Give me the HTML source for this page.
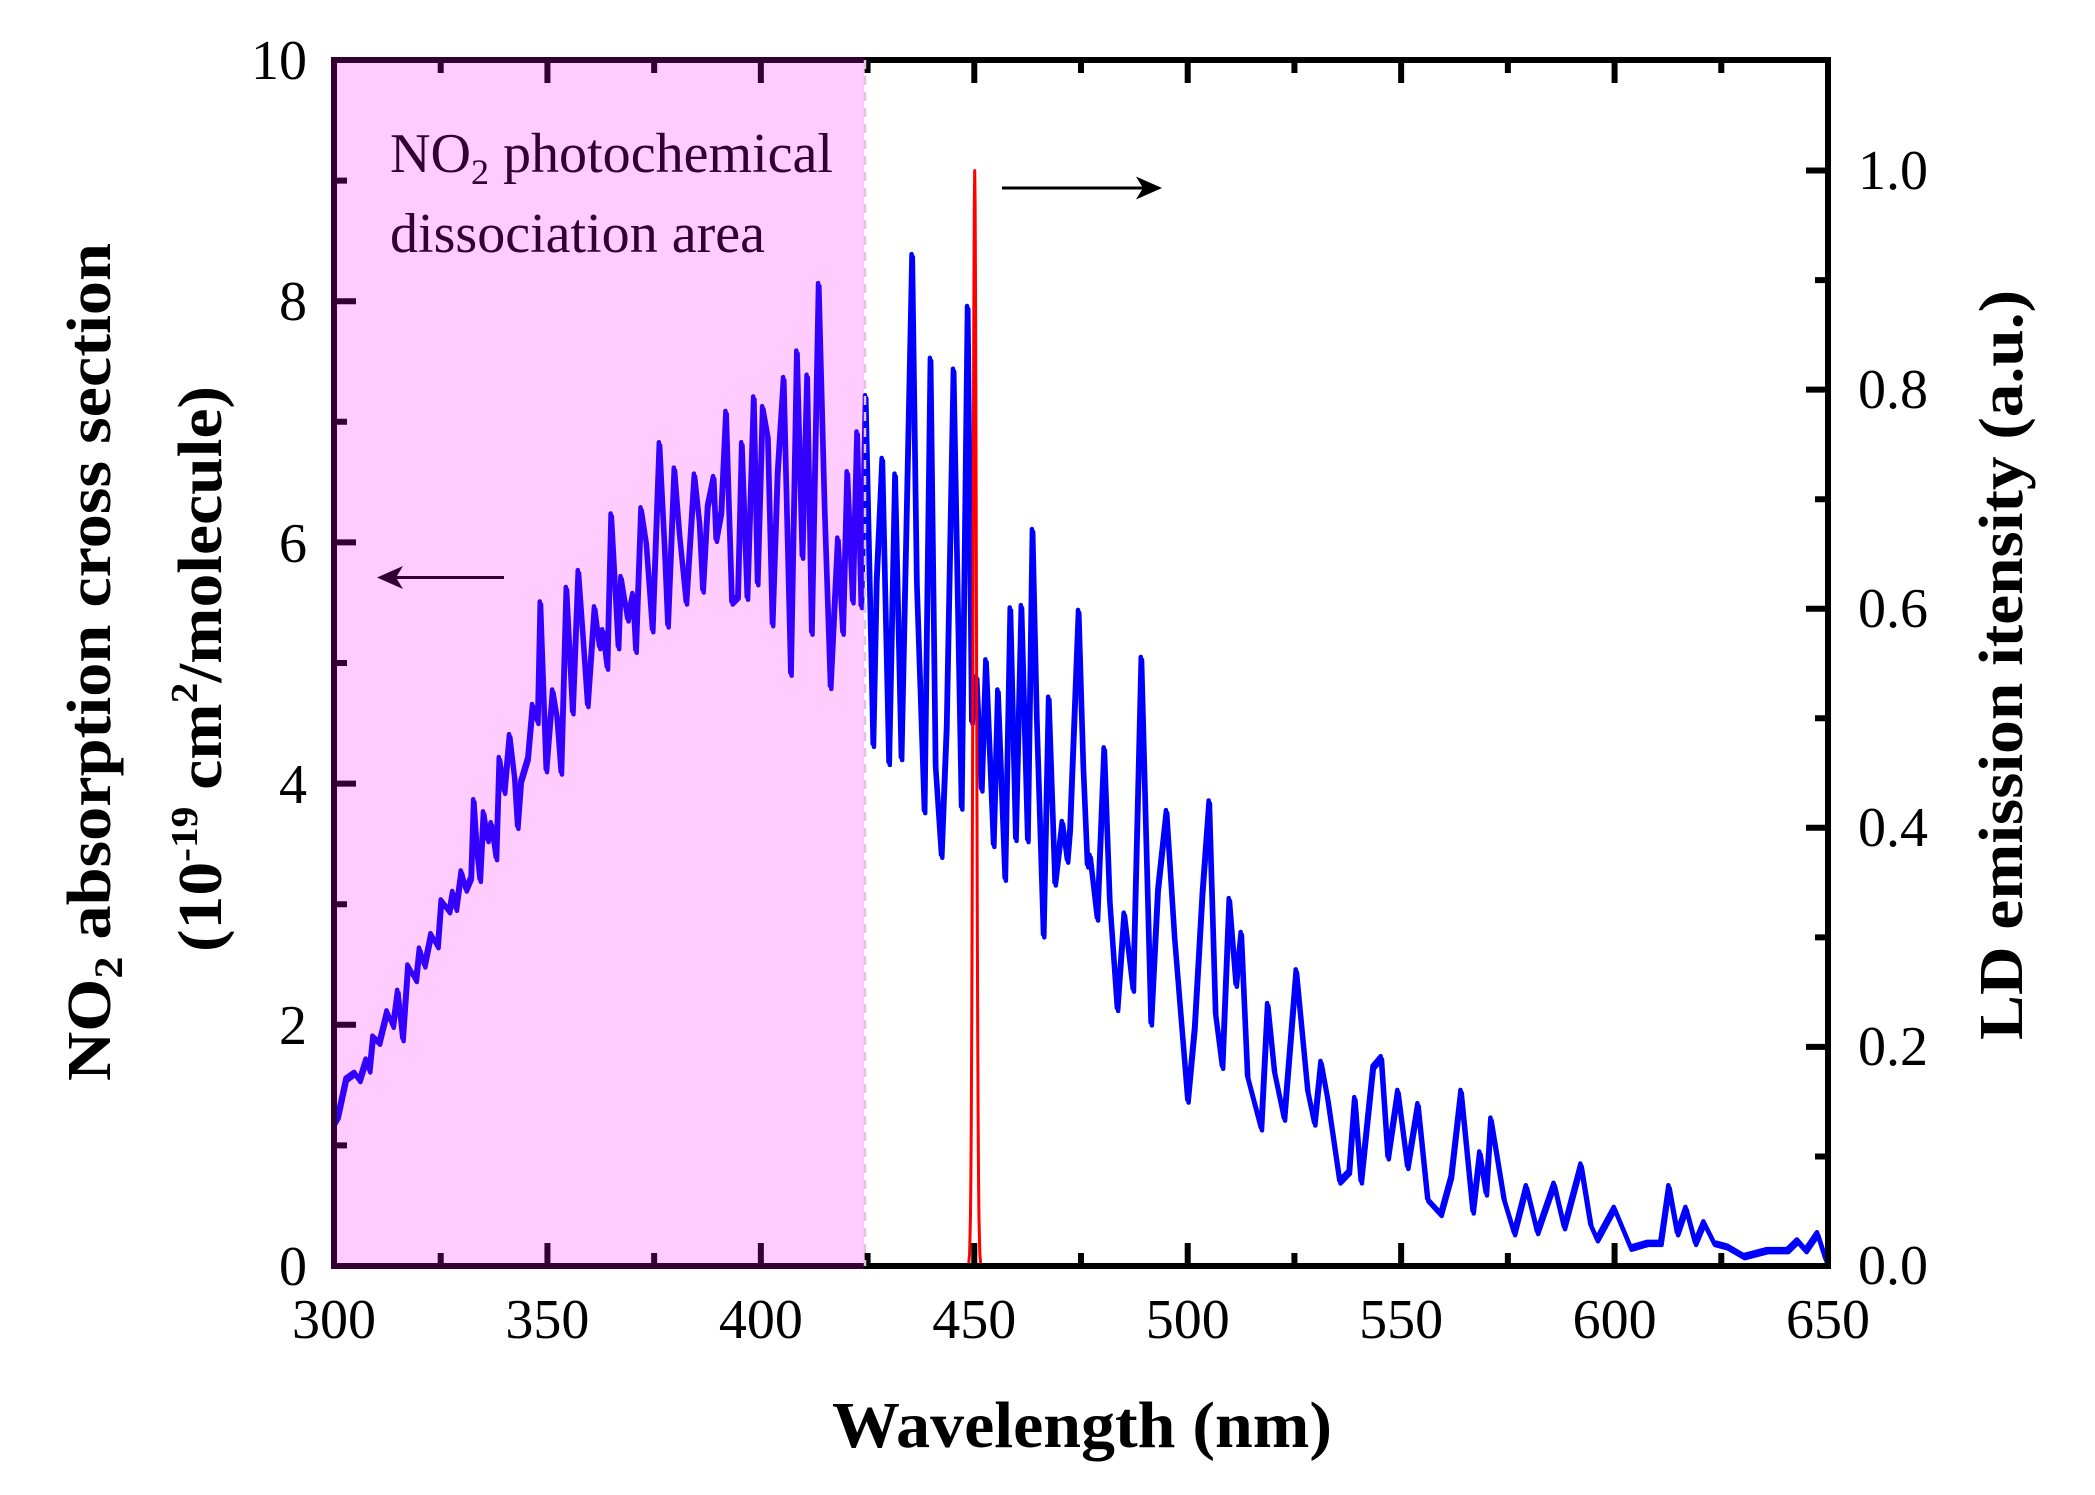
<!DOCTYPE html>
<html>
<head>
<meta charset="utf-8">
<style>
html,body{margin:0;padding:0;background:#fff;}
svg{display:block;}
text{font-family:"Liberation Serif","DejaVu Serif",serif;fill:#000;}
</style>
</head>
<body>
<svg width="2095" height="1495" viewBox="0 0 2095 1495" xmlns="http://www.w3.org/2000/svg" xmlns:xlink="http://www.w3.org/1999/xlink">
<rect x="0" y="0" width="2095" height="1495" fill="#fff"/>

<!-- data series -->
<g transform="translate(334,1266) scale(4.268571,-120.6) translate(-300,0)">
<polyline id="blue" fill="none" stroke="#0000ff" stroke-width="4.5" vector-effect="non-scaling-stroke" stroke-linejoin="round" points="
300,1.2 300.8,1.25 302.7,1.56 304.7,1.61 305.9,1.55 307.4,1.72 308.2,1.63 309,1.91 310.5,1.86 312.3,2.12 313.7,2.0 314.8,2.29 316,1.89 317.2,2.5 319.1,2.38 319.9,2.64 321.1,2.5 322.6,2.76 324.2,2.66 325,3.04 326.9,2.95 327.7,3.11 328.5,2.97 329.7,3.28 330.8,3.13 332,3.23 332.6,3.87 333.4,3.44 334.1,3.21 334.9,3.77 335.9,3.54 336.7,3.68 337.9,3.39 338.6,4.22 339.8,3.94 341,4.41 342.2,4.05 342.9,3.65 343.7,4.03 345.3,4.22 346.4,4.66 347.6,4.52 348.2,5.51 349,4.71 349.6,4.12 351.1,4.78 352.1,4.57 353.1,4.1 354.3,5.63 355.8,4.6 357.1,5.77 358.2,5.23 359.3,4.66 360.9,5.47 362.1,5.14 362.8,5.28 363.9,4.97 364.8,6.24 366.5,5.14 367.1,5.72 368.7,5.37 369.9,5.58 370.6,5.11 371.8,6.29 373,6.01 374.5,5.28 376.1,6.83 377.3,5.98 378.1,5.32 379.6,6.62 380.8,6.08 382.4,5.51 384.3,6.57 385.5,6.17 386.3,5.61 387.4,6.31 388.8,6.55 389.4,6.03 390.6,6.26 391.7,7.09 393.1,5.51 394.5,5.56 395.4,6.83 396.7,5.55 398.2,7.21 399.1,5.67 400.3,7.13 401.5,6.89 402.6,5.33 403.8,6.59 405.2,7.37 406.9,4.92 408.3,7.59 409.6,5.89 410.7,7.39 411.8,5.26 413.4,8.15 414.8,6.29 416.2,4.81 417.9,6.04 419.1,5.26 420.1,6.59 421.4,5.52 422.4,6.92 423.4,5.48 424.4,7.22 426.2,4.33 427,5.7 428.3,6.7 429.9,4.18 431.3,6.57 432.8,4.22 434,6.2 435.3,8.39 436.4,5.67 438.2,3.78 439.6,7.53 440.8,4.15 442.2,3.41 443.4,4.48 445,7.44 446.9,3.81 448.3,7.96 449.3,4.52 450.4,4.89 451.6,3.96 452.6,5.03 454.4,3.5 455.4,4.78 457.1,3.22 458.3,5.46 459.6,3.55 460.9,5.48 462.4,3.54 463.5,6.11 464.5,4.55 466.1,2.75 467.3,4.72 468.8,3.18 470.5,3.69 471.7,3.37 472.3,3.63 474.3,5.44 475.4,4.15 476.4,3.33 477,3.41 478.7,2.89 480.3,4.3 481.6,3.04 483.4,2.14 485,2.93 487.1,2.3 489,5.05 491.3,2.02 492.9,3.13 494.9,3.78 496.8,2.73 499.9,1.38 501.5,1.98 503.3,3.09 504.9,3.86 506.4,2.1 508,1.66 509.6,3.05 511.2,2.34 512.4,2.77 513.9,1.58 517.1,1.15 518.6,2.18 520.2,1.62 522.5,1.23 525.3,2.46 528,1.46 529.6,1.19 531.1,1.7 532.7,1.39 535.5,0.71 537.7,0.79 539,1.4 540.5,0.71 543.3,1.66 545.2,1.74 546.8,0.91 549.1,1.46 551.4,0.83 553.8,1.35 556.1,0.56 559.2,0.44 561.6,0.75 563.9,1.46 566.7,0.46 568.3,0.95 569.8,0.61 570.9,1.23 574,0.56 576.4,0.28 579.2,0.67 581.8,0.29 585.7,0.69 588.1,0.33 592,0.85 594.3,0.35 595.8,0.23 599.8,0.49 603.7,0.16 607.6,0.2 610.7,0.2 612.6,0.67 614.6,0.28 616.6,0.49 618.8,0.2 620.8,0.37 623.2,0.2 626.3,0.17 630.2,0.09 635.7,0.14 640.4,0.14 642.7,0.22 644.7,0.14 647.4,0.28 649.4,0.06 650,0.1"/>
<use xlink:href="#blue" href="#blue" transform="translate(0.3,-0.025)"/>
<polyline fill="none" stroke="#ff0000" stroke-width="3" vector-effect="non-scaling-stroke" stroke-linejoin="round" points="
445,0 448.5,0 448.7,0.02 448.9,0.101 449.1,0.399 449.2,0.723 449.3,1.229 449.4,1.965 449.5,2.949 449.6,4.158 449.7,5.509 449.8,6.856 449.9,8.016 450.0,8.80 450.1,9.083 450.2,8.80 450.3,8.016 450.4,6.856 450.5,5.509 450.6,4.158 450.7,2.949 450.8,1.965 450.9,1.229 451.0,0.723 451.1,0.399 451.3,0.101 451.5,0.02 451.7,0 455,0"/>
</g>

<!-- axes frame -->
<rect x="334" y="60" width="1494" height="1206" fill="none" stroke="#000" stroke-width="6"/>

<!-- ticks -->
<g stroke="#000" stroke-width="6" fill="none">
<path d="M547.43 1266V1243 M760.86 1266V1243 M974.29 1266V1243 M1187.71 1266V1243 M1401.14 1266V1243 M1614.57 1266V1243"/>
<path d="M440.71 1266V1253 M654.14 1266V1253 M867.57 1266V1253 M1081 1266V1253 M1294.43 1266V1253 M1507.86 1266V1253 M1721.29 1266V1253"/>
<path d="M547.43 60V83 M760.86 60V83 M974.29 60V83 M1187.71 60V83 M1401.14 60V83 M1614.57 60V83"/>
<path d="M440.71 60V73 M654.14 60V73 M867.57 60V73 M1081 60V73 M1294.43 60V73 M1507.86 60V73 M1721.29 60V73"/>
<path d="M334 1024.8H356 M334 783.6H356 M334 542.4H356 M334 301.2H356"/>
<path d="M334 1145.4H347 M334 904.2H347 M334 663H347 M334 421.8H347 M334 180.6H347"/>
<path d="M1828 1046.9H1806 M1828 827.8H1806 M1828 608.7H1806 M1828 389.6H1806 M1828 170.5H1806"/>
<path d="M1828 1156.45H1815 M1828 937.4H1815 M1828 718.3H1815 M1828 499.2H1815 M1828 280.1H1815"/>
</g>

<!-- annotation text -->
<text x="390" y="172" font-size="56" textLength="443" lengthAdjust="spacingAndGlyphs">NO<tspan font-size="36" dy="12">2</tspan><tspan dy="-12"> photochemical</tspan></text>
<text x="390" y="252" font-size="56" textLength="375" lengthAdjust="spacingAndGlyphs">dissociation area</text>

<!-- arrows -->
<line x1="504" y1="577.5" x2="385" y2="577.5" stroke="#000" stroke-width="3"/>
<polygon points="377,577.5 403,566 396,577.5 403,589" fill="#000"/>
<line x1="1002" y1="188" x2="1154" y2="188" stroke="#000" stroke-width="3"/>
<polygon points="1162,188 1136,176.5 1143,188 1136,199.5" fill="#000"/>

<!-- dashed boundary -->
<line x1="865" y1="60" x2="865" y2="1266" stroke="#e2c2e2" stroke-width="2.5" stroke-dasharray="9,7"/>

<!-- pink overlay -->
<rect x="331" y="57" width="533" height="1212" fill="#ff00ff" fill-opacity="0.2"/>

<!-- left tick labels -->
<g font-size="56" text-anchor="end">
<text x="307" y="1285">0</text>
<text x="307" y="1044">2</text>
<text x="307" y="803">4</text>
<text x="307" y="562">6</text>
<text x="307" y="320">8</text>
<text x="307" y="79">10</text>
</g>
<!-- bottom tick labels -->
<g font-size="56" text-anchor="middle">
<text x="334" y="1338">300</text>
<text x="547.43" y="1338">350</text>
<text x="760.86" y="1338">400</text>
<text x="974.29" y="1338">450</text>
<text x="1187.71" y="1338">500</text>
<text x="1401.14" y="1338">550</text>
<text x="1614.57" y="1338">600</text>
<text x="1828" y="1338">650</text>
</g>
<!-- right tick labels -->
<g font-size="56" text-anchor="start">
<text x="1858" y="1284">0.0</text>
<text x="1858" y="1065">0.2</text>
<text x="1858" y="846">0.4</text>
<text x="1858" y="627">0.6</text>
<text x="1858" y="408">0.8</text>
<text x="1858" y="189">1.0</text>
</g>

<!-- axis titles -->
<text x="1082" y="1447" font-size="66" font-weight="bold" text-anchor="middle" textLength="500" lengthAdjust="spacingAndGlyphs">Wavelength (nm)</text>

<text transform="translate(110,662) rotate(-90)" font-size="62" font-weight="bold" text-anchor="middle" textLength="838" lengthAdjust="spacingAndGlyphs">NO<tspan font-size="40" dy="12">2</tspan><tspan dy="-12"> absorption cross section</tspan></text>

<text transform="translate(221,669) rotate(-90)" font-size="62" font-weight="bold" text-anchor="middle" textLength="566" lengthAdjust="spacingAndGlyphs">(10<tspan font-size="38" dy="-24">-19</tspan><tspan dy="24"> cm</tspan><tspan font-size="38" dy="-24">2</tspan><tspan dy="24">/molecule)</tspan></text>

<text transform="translate(2022,665) rotate(-90)" font-size="62" font-weight="bold" text-anchor="middle" textLength="750" lengthAdjust="spacingAndGlyphs">LD emission itensity (a.u.)</text>
</svg>
</body>
</html>
